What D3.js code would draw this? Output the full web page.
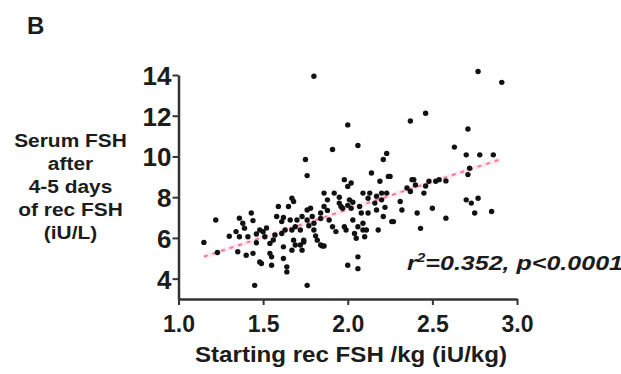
<!DOCTYPE html>
<html>
<head>
<meta charset="utf-8">
<script src="https://cdn.jsdelivr.net/npm/d3@7"></script>
<style>
  body { margin: 0; background: #fff; }
  text { font-family: "Liberation Sans", Arial, sans-serif; font-weight: bold; fill: #1c1c1c; }
</style>
</head>
<body>
<div id="chart"></div>
<script>
// starting dose (iU/kg) and serum FSH (iU/L)
let doseX = [1.80, 2.77, 2.91, 2.46, 2.37, 2.00, 2.71, 2.06, 1.91, 2.63, 2.23, 2.21, 1.75, 1.76,
    2.70, 2.78, 2.86, 2.71, 2.25, 2.14, 1.98, 2.38, 2.52,
    1.15, 1.22, 1.23, 1.30, 1.34, 1.36, 1.36, 1.38, 1.39, 1.35, 1.40, 1.43, 1.41, 1.44, 1.46,
    1.45, 1.48, 1.49, 1.46, 1.48, 1.51, 1.52, 1.54, 1.55, 1.55, 1.57, 1.54, 1.58,
    1.59, 1.61, 1.61, 1.62, 1.62, 1.64, 1.64, 1.63, 1.65, 1.66, 1.67, 1.68, 1.69, 1.67, 1.68,
    1.70, 1.72, 1.72, 1.73, 1.74, 1.76, 1.76, 1.76, 1.78, 1.79, 1.80, 1.80, 1.82, 1.84, 1.85,
    1.86, 1.84, 1.86, 1.88, 1.86, 1.89, 1.91, 1.92,
    1.93, 1.95, 1.96, 1.97, 1.98, 1.99, 2.00, 2.00, 2.01, 2.02, 2.02, 2.03, 2.04, 2.05, 2.06,
    2.06, 2.09, 2.07, 2.08, 2.09, 2.09, 2.10, 2.11, 2.12, 2.13, 2.16, 2.17, 2.18, 2.19, 2.20,
    2.20, 2.21, 2.23, 2.24, 2.26, 2.27,
    2.31, 2.32, 2.37, 2.39, 2.41, 2.43, 2.45, 2.48, 2.50, 2.54, 2.58, 2.70, 2.73, 2.77, 2.75,
    2.85, 2.72,
    1.62, 1.69, 1.73, 1.77, 1.84, 1.88, 1.95, 2.00, 2.03, 2.06, 2.12, 2.17, 2.22, 1.56, 1.50,
    1.44, 1.67, 1.74, 1.81, 2.35, 2.40, 2.58, 2.46];
let fshY = [13.94, 14.17, 13.64, 12.12, 11.74, 11.55, 11.35, 10.54, 10.34, 10.46, 10.15, 9.85, 9.85, 9.06,
    10.08, 10.08, 10.08, 9.11, 9.02, 9.19, 8.86, 8.86, 8.78,
    5.78, 6.88, 5.28, 6.08, 6.31, 6.06, 6.97, 6.72, 6.48, 5.32, 5.15, 7.22, 6.06, 5.24, 5.76,
    3.67, 4.82, 4.74, 6.19, 6.39, 6.06, 6.49, 5.24, 4.66, 5.07, 6.14, 5.73, 7.05,
    7.54, 6.80, 6.22, 5.56, 4.99, 4.58, 4.33, 6.39, 7.54, 6.88, 6.39, 5.89, 5.65, 7.95, 7.79,
    6.88, 6.39, 5.65, 5.40, 5.89, 7.37, 6.88, 3.67, 7.46, 7.05, 6.72, 6.39, 5.89, 5.65, 5.60,
    5.60, 7.22, 7.54, 7.87, 8.20, 6.88, 6.55, 8.20,
    6.31, 7.71, 7.54, 7.46, 6.55, 6.39, 4.66, 8.53, 7.87, 7.46, 8.70, 6.88, 6.22, 5.98, 5.07,
    4.49, 8.20, 7.54, 7.22, 6.39, 6.72, 6.06, 6.39, 7.22, 8.20, 7.71, 7.37, 6.39, 8.78, 8.20,
    7.87, 7.05, 8.20, 9.02, 6.80, 6.80,
    7.79, 7.37, 8.28, 8.86, 7.22, 6.47, 8.20, 8.78, 7.46, 8.86, 6.97, 7.87, 7.71, 7.95, 7.22,
    7.30, 9.42,
    7.00, 6.55, 7.05, 6.60, 6.95, 7.35, 8.00, 7.60, 7.75, 6.55, 7.95, 8.05, 7.50, 5.90, 6.30,
    6.85, 5.40, 5.80, 6.10, 8.45, 8.60, 8.80, 8.55];

// linear fit end points
let fitX = [1.15, 2.90];
let fitY = [5.08, 9.85];

let xTicks = [1.0, 1.5, 2.0, 2.5, 3.0];
let yTicks = [4, 6, 8, 10, 12, 14];

let w = 621;
let h = 374;

let svg = d3.select("#chart")
    .append("svg")
    .attr("width", w)
    .attr("height", h);

let x = d3.scaleLinear().domain([1, 3]).range([178.5, 517]);
let y = d3.scaleLinear().domain([3, 14]).range([299, 75]);

// panel letter
svg.append("text")
    .attr("x", 27)
    .attr("y", 34)
    .attr("font-size", "24px")
    .text("B");

// axes
let xAxis = svg.append("g")
    .attr("transform", "translate(0," + y(3) + ")")
    .call(d3.axisBottom(x).tickValues(xTicks).tickFormat(d3.format(".1f")).tickSize(6).tickSizeOuter(0));
xAxis.selectAll("text").attr("font-size", "23px").attr("dy", "1.05em");

let yAxis = svg.append("g")
    .attr("transform", "translate(" + x(1) + ",0)")
    .call(d3.axisLeft(y).tickValues(yTicks).tickSize(6).tickSizeOuter(0));
yAxis.selectAll("text").attr("font-size", "26px").attr("x", -7).attr("dy", "0.36em");

svg.selectAll(".domain").attr("stroke", "#333").attr("stroke-width", 2.5);
svg.selectAll(".tick line").attr("stroke", "#333").attr("stroke-width", 2);
svg.selectAll(".tick text").attr("fill", "#1c1c1c").style("font-family", "'Liberation Sans', Arial, sans-serif").style("font-weight", "bold");

// axis titles
svg.append("text")
    .attr("x", 195)
    .attr("y", 362)
    .attr("font-size", "22px")
    .attr("textLength", 312)
    .attr("lengthAdjust", "spacingAndGlyphs")
    .text("Starting rec FSH /kg (iU/kg)");

let yTitle = ["Serum FSH", "after", "4-5 days", "of rec FSH", "(iU/L)"];
svg.selectAll("text.ytitle")
    .data(yTitle)
    .enter()
    .append("text")
    .attr("class", "ytitle")
    .attr("x", 70.5)
    .attr("y", function (d, i) {
        return 147 + i * 23;
    })
    .attr("text-anchor", "middle")
    .attr("font-size", "19px")
    .attr("transform", "translate(70.5,0) scale(1.1,1) translate(-70.5,0)")
    .text(function (d) {
        return d;
    });

// fit line
svg.append("line")
    .attr("x1", x(fitX[0]))
    .attr("y1", y(fitY[0]))
    .attr("x2", x(fitX[1]))
    .attr("y2", y(fitY[1]))
    .attr("stroke", "#fdebf1")
    .attr("stroke-width", 5);
svg.append("line")
    .attr("x1", x(fitX[0]))
    .attr("y1", y(fitY[0]))
    .attr("x2", x(fitX[1]))
    .attr("y2", y(fitY[1]))
    .attr("stroke", "#ee7aa0")
    .attr("stroke-width", 2)
    .attr("stroke-dasharray", "4,5");

// points
svg.selectAll("circle")
    .data(doseX)
    .enter()
    .append("circle")
    .attr("cx", function (d) {
        return x(d);
    })
    .attr("cy", function (d, i) {
        return y(fshY[i]);
    })
    .attr("r", 2.7)
    .attr("fill", "#111");

// stats
let stat = svg.append("text")
    .attr("x", 407)
    .attr("y", 270)
    .attr("font-size", "21px")
    .attr("font-style", "italic")
    .attr("textLength", 216)
    .attr("lengthAdjust", "spacingAndGlyphs");
stat.append("tspan").text("r");
stat.append("tspan").attr("font-size", "13px").attr("dy", "-8").text("2");
stat.append("tspan").attr("dy", "8").text("=0.352, p<0.0001");
</script>
</body>
</html>
